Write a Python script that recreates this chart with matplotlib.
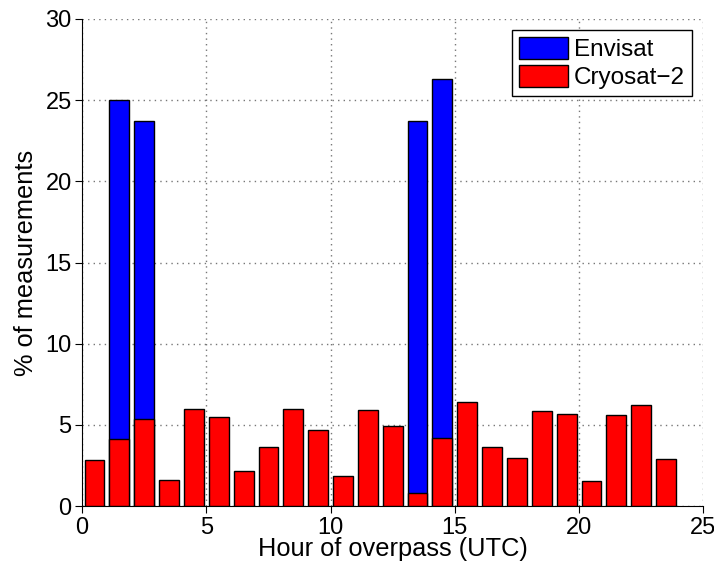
import matplotlib
matplotlib.use("Agg")
import matplotlib.pyplot as plt
import numpy as np

plt.rcParams['font.family'] = ['Liberation Sans', 'DejaVu Sans']

# hour bins (centres) and percentages
hours = np.arange(24) + 0.5
envisat = [0, 25.0, 23.7, 0, 0, 0, 0, 0, 0, 0, 0, 0,
           0, 23.7, 26.3, 0, 0, 0, 0, 0, 0, 0, 0, 0]
cryosat = [2.85, 4.15, 5.37, 1.63, 6.0, 5.47, 2.14, 3.62, 5.97, 4.67, 1.85, 5.93,
           4.92, 0.82, 4.2, 6.4, 3.64, 2.98, 5.86, 5.66, 1.54, 5.6, 6.26, 2.9]

fig = plt.figure(figsize=(7.14, 5.72), dpi=100)
ax = fig.add_axes([0.115, 0.115, 0.87, 0.852])

ax.bar(hours, envisat, width=0.8, color='#0000ff', edgecolor='black',
       linewidth=1, label='Envisat', zorder=2)
ax.bar(hours, cryosat, width=0.8, color='#ff0000', edgecolor='black',
       linewidth=1, label='Cryosat\u22122', zorder=3)

ax.set_xlim(0, 25)
ax.set_ylim(0, 30)
ax.set_xticks([0, 5, 10, 15, 20, 25])
ax.set_yticks([0, 5, 10, 15, 20, 25, 30])
ax.tick_params(direction='out', labelsize=17, length=5, pad=2.5)
ax.grid(True, linestyle=(0, (1, 3)), color='#777777', linewidth=1, zorder=0)
ax.set_axisbelow(True)
ax.spines['top'].set_visible(False)
ax.spines['right'].set_visible(False)

ax.set_xlabel('Hour of overpass (UTC)', fontsize=18.3, labelpad=-1)
ax.set_ylabel('% of measurements', fontsize=18.3, labelpad=5)

leg = ax.legend(loc='upper right', fontsize=17.5, fancybox=False, framealpha=1,
                edgecolor='black', handlelength=2.0, handleheight=1.0,
                borderpad=0.3, labelspacing=0.15, handletextpad=0.25,
                borderaxespad=0.45)
leg.get_frame().set_linewidth(1)

fig.savefig('out.png', dpi=100)
